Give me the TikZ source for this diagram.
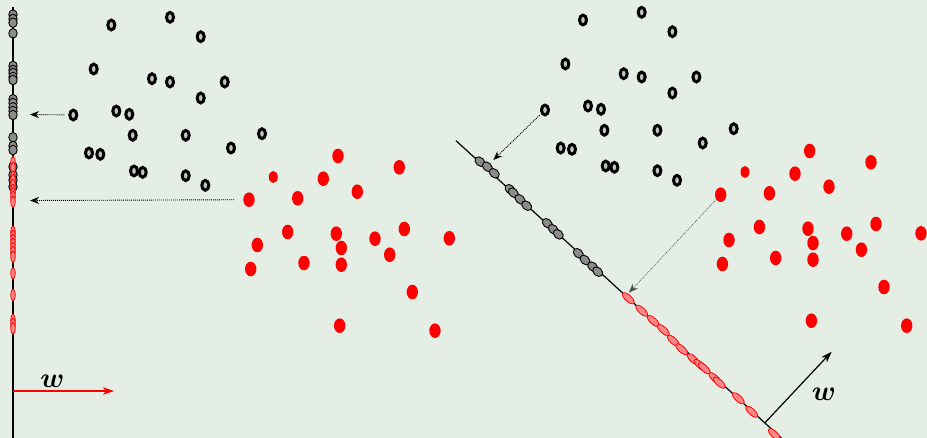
\RequirePackage{fix-cm}
\documentclass[tikz,border=0pt]{standalone}
\usepackage{bm}
\usetikzlibrary{arrows.meta,shapes.geometric}
\definecolor{bg}{RGB}{228,238,228}
\definecolor{ringfill}{RGB}{195,195,195}
\definecolor{projgray}{RGB}{140,140,140}
\definecolor{projred}{RGB}{255,135,135}
\begin{document}
\begin{tikzpicture}[x=1pt,y=-1pt,
  blackring/.style={ellipse, draw=black, line width=3pt, fill=ringfill, minimum width=7pt, minimum height=9.8pt, inner sep=0pt},
  reddot/.style={ellipse, fill=red, minimum width=11.4pt, minimum height=14.6pt, inner sep=0pt},
  smallreddot/.style={reddot, minimum width=9pt, minimum height=12pt},
  grayproj/.style={ellipse, draw=black, line width=0.9pt, fill=projgray, minimum width=8.4pt, minimum height=9.6pt, inner sep=0pt},
  redproj/.style={ellipse, draw=red, line width=0.8pt, fill=projred, minimum width=4.4pt, minimum height=11.6pt, inner sep=0pt},
  graydiag/.style={grayproj, minimum width=11.2pt, minimum height=8.2pt, rotate=-42.4},
  reddiag/.style={redproj, minimum width=15pt, minimum height=6.2pt, rotate=-42.4},
  axisline/.style={draw=black, line width=1.2pt},
  projarrow/.style={draw=black, line width=0.9pt, dash pattern=on 1pt off 1pt, -{Stealth[length=9pt,width=7pt]}},
  projarrowthin/.style={draw=black!70, line width=0.6pt, dash pattern=on 1pt off 1pt, -{Stealth[length=9pt,width=7pt]}},
  warrow/.style={line width=1.2pt, -{Stealth[length=11pt,width=7.5pt,inset=3pt]}},
  wlabel/.style={inner sep=0pt, font=\fontsize{28}{30}\selectfont}
]
\clip (0,0) rectangle (927,438);
\fill[bg] (0,0) rectangle (927,438);

% ---------- left panel ----------
\coordinate (ltop) at (13,7);
\coordinate (lbot) at (13,440);
\draw[axisline] (ltop) -- (lbot);

\foreach \y [count=\i] in {14.7,19,22.7,33.3,66,70,73,77,80,99.3,103,107.3,111,115,137.3,146,150,166.7,175,180,186.7}
  \node[grayproj] (lg\i) at (13,\y) {};
\foreach \y [count=\i] in {162.3,168,176.7,180,185,190,193.3,197,201.7,231.7,236,240,244,248.3,252,256.7,273.3,295,320,324,328.3}
  \node[redproj] (lr\i) at (13,\y) {};

\foreach \x/\y [count=\i] in {111.3/25,170/17.3,200.7/36.7,93.7/69,152/78.7,170/82,224.7/82,200.7/98,73.3/115,116.3/111,129.3/114.3,132.7/135.3,185.7/135.3,262/133.7,231/148,89/153,100.3/154.3,134/171,142.7/172.3,185.7/175.7,205.3/185.3}
{
  \node[blackring] (lring\i) at (\x,\y) {};
  \node[blackring] (rring\i) at (\x+471.7,\y-5) {};
}
\foreach \x/\y/\s [count=\i] in {338/156/reddot,399.3/167.3/reddot,273.3/177/smallreddot,323.3/178.7/reddot,357.3/191.7/reddot,249/199.7/reddot,297.7/198.3/reddot,287.7/232/reddot,336.3/233.7/reddot,404.3/229/reddot,375/238.7/reddot,449.3/238.3/reddot,257.3/245/reddot,341.3/248/reddot,389.7/254.7/reddot,250.7/269/reddot,304/263/reddot,341.3/264.7/reddot,412.3/292/reddot,339.7/325.7/reddot,435/330.7/reddot}
{
  \node[\s] (ldot\i) at (\x,\y) {};
  \node[\s] (rdot\i) at (\x+471.7,\y-5) {};
}

\coordinate (ltip1) at (30,114.5);
\coordinate (ltip2) at (30,200.5);
\draw[projarrow, shorten <=4pt] (lring9) -- (ltip1);
\draw[projarrow, shorten <=9pt] (ldot6) -- (ltip2);

\coordinate (lwbase) at (13,391);
\coordinate (lwtip) at (114,391);
\draw[warrow, red] (lwbase) -- (lwtip);
\node[wlabel] (lw) at (52.5,381) {$\bm{w}$};

% ---------- right panel ----------
\coordinate (rtop) at (456,140.7);
\coordinate (rbot) at (789,445);
\draw[axisline] (rtop) -- (rbot);

\foreach \x/\y [count=\i] in {480/161.7,487.3/166.7,494.3/173.3,510/189.3,513.3/192.7,520/199.3,526.7/205.7,547.3/223.3,553.3/229.3,558.3/234.3,578.3/253.3,585/260,592.7/266.7,597.7/271.7}
  \node[graydiag] (rg\i) at (\x,\y) {};
\foreach \x/\y [count=\i] in {628.3/298.3,641.7/310.7,653.3/321,663.3/330,673.3/340.7,681.7/349.3,693.3/359.3,700/365,704.3/368.3,715/378.3,719.3/382.7,738.3/398.3,751.7/411.7,774.3/434.3}
  \node[reddiag] (rr\i) at (\x,\y) {};

\coordinate (rtip1) at (493.3,160);
\coordinate (rtip2) at (629,292.7);
\draw[projarrow, shorten <=2pt] (rring9) -- (rtip1);
\draw[projarrowthin] (rdot6) -- (rtip2);

\coordinate (rwbase) at (765,422.7);
\coordinate (rwtip) at (831.7,351.7);
\draw[warrow, black] (rwbase) -- (rwtip);
\node[wlabel] (rw) at (824,394) {$\bm{w}$};
\end{tikzpicture}
\end{document}
